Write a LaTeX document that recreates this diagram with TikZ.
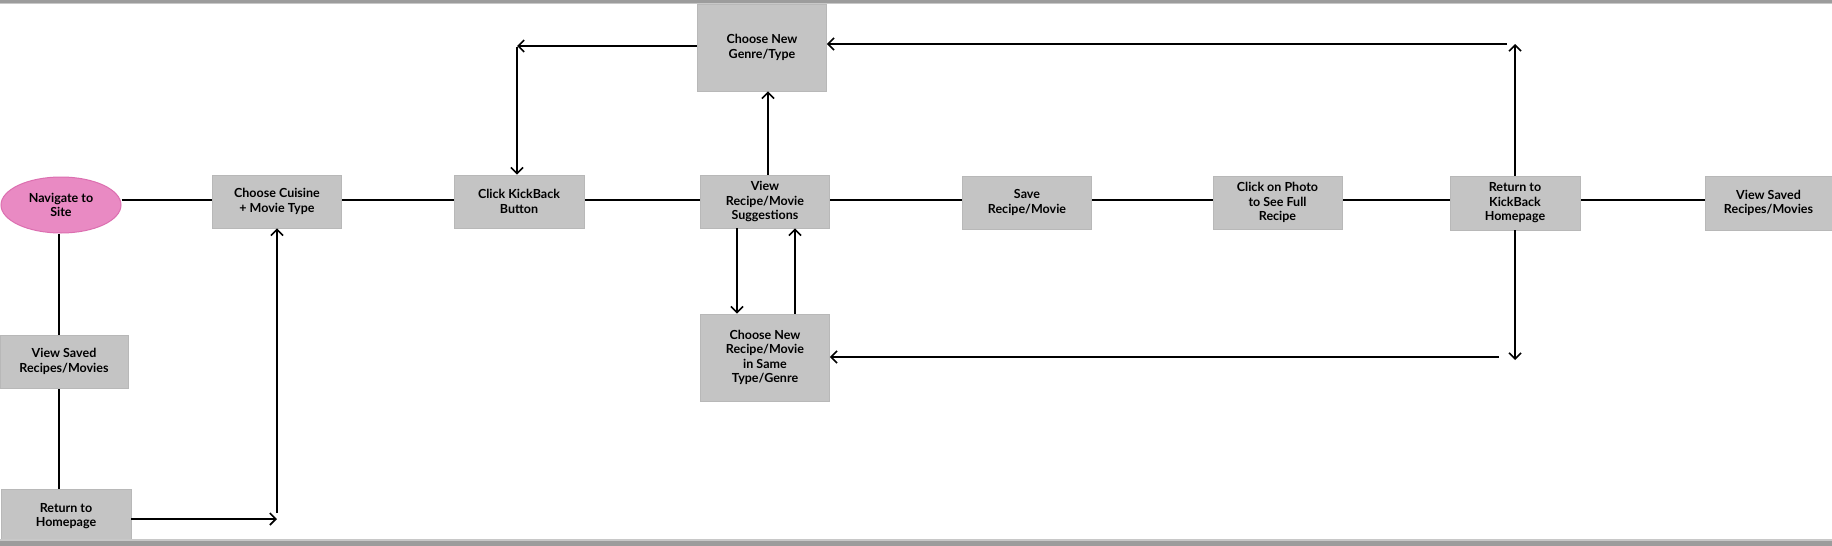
\documentclass[tikz,border=0pt]{standalone}
\usepackage{fontspec}
\setmainfont{Lato}
\usetikzlibrary{arrows.meta,shapes.geometric,backgrounds}
\definecolor{boxfill}{HTML}{C4C4C4}
\definecolor{boxedge}{HTML}{B8B8B8}
\definecolor{pinkfill}{HTML}{E98AC3}
\definecolor{pinkedge}{HTML}{DC6FB0}
\definecolor{band}{HTML}{9C9C9C}
\definecolor{bandlight}{HTML}{C8C8C8}
\tikzset{
  boxnode/.style={rectangle, fill=boxfill, draw=boxedge, line width=0.8pt,
    minimum width=129pt, minimum height=53pt, inner sep=2pt, align=center,
    font=\fontsize{12.5}{14.5}\selectfont\bfseries, text=black},
  tallbox/.style={boxnode, minimum height=87pt},
  startnode/.style={ellipse, fill=pinkfill, draw=pinkedge, line width=1pt,
    minimum width=120pt, minimum height=56pt, inner sep=0pt, align=center,
    font=\fontsize{12.5}{14.5}\selectfont\bfseries, text=black},
  mainline/.style={draw=black, line width=2.2pt},
  arr/.style={draw=black, line width=1.6pt, -{Straight Barb[length=6pt,width=12pt,line width=1.6pt]}},
}
\begin{document}
\begin{tikzpicture}[x=1pt,y=-1pt]
\useasboundingbox (0,0) rectangle (1832,546);

% nodes
\node[startnode] (nav) at (61,205) {Navigate to\\Site};
\node[boxnode] (cuisine) at (277,201.5) {Choose Cuisine\\+ Movie Type};
\node[boxnode, minimum width=130pt] (kick) at (519,201.5) {Click KickBack\\Button};
\node[tallbox] (genre) at (762,47.5) {Choose New\\Genre/Type};
\node[boxnode] (view) at (765,201.5) {View\\Recipe/Movie\\Suggestions};
\node[boxnode] (save) at (1027,202.5) {Save\\Recipe/Movie};
\node[boxnode] (photo) at (1277.5,202.5) {Click on Photo\\to See Full\\Recipe};
\node[boxnode, minimum width=130pt, minimum height=54pt] (ret) at (1515,203) {Return to\\KickBack\\Homepage};
\node[boxnode, minimum width=127pt, minimum height=54pt] (saved2) at (1768.5,203) {View Saved\\Recipes/Movies};
\node[tallbox] (newrec) at (765,357.5) {Choose New\\Recipe/Movie\\in Same\\Type/Genre};
\node[boxnode, minimum width=128pt] (saved1) at (64,361.5) {View Saved\\Recipes/Movies};
\node[boxnode, minimum width=130pt, minimum height=54pt] (home) at (66,516) {Return to\\Homepage};

% free ends and guide
\coordinate (row) at (0,200);
\coordinate (c1) at (277,519);
\coordinate (c2) at (517,46);
\coordinate (c3) at (1515,44);
\coordinate (c4) at (1515,360);

\begin{scope}[on background layer]
  \fill[white] (0,0) rectangle (1832,546);
  \draw[mainline] (nav.east |- row) -- (cuisine.west |- row);
  \draw[mainline] (cuisine.east |- row) -- (kick.west |- row);
  \draw[mainline] (kick.east |- row) -- (view.west |- row);
  \draw[mainline] (view.east |- row) -- (save.west |- row);
  \draw[mainline] (save.east |- row) -- (photo.west |- row);
  \draw[mainline] (photo.east |- row) -- (ret.west |- row);
  \draw[mainline] (ret.east |- row) -- (saved2.west |- row);
  \draw[mainline] ([xshift=-2pt]nav.south) -- ([xshift=-2pt]nav.south |- saved1.north);
  \draw[mainline] ([xshift=-2pt]nav.south |- saved1.south) -- ([xshift=-2pt]nav.south |- home.north);
\end{scope}

% bands
\fill[band] (0,0) rectangle (1832,2.5);
\fill[bandlight] (0,2.5) rectangle (1832,4);
\fill[bandlight] (0,539) rectangle (1832,541);
\fill[band] (0,541) rectangle (1832,546);

% arrows
\draw[arr] (home.east |- c1) -- (c1);
\draw[arr] ([yshift=6pt]c1) -- (c1 |- cuisine.south);
\draw[arr] (genre.west |- c2) -- (c2);
\draw[arr] ([yshift=-1pt]c2) -- (c2 |- kick.north);
\draw[arr] ([xshift=3pt]view.north) -- ([xshift=3pt]view.north |- genre.south);
\draw[arr] ([xshift=-28pt]view.south) -- ([xshift=-28pt]view.south |- newrec.north);
\draw[arr] ([xshift=30pt]newrec.north) -- ([xshift=30pt]newrec.north |- view.south);
\draw[arr] (ret.north) -- (c3);
\draw[arr] ([xshift=-8pt]c3) -- (c3 -| genre.east);
\draw[arr] (ret.south) -- (c4);
\draw[arr] ([xshift=-16pt, yshift=3pt]c4) -- ([yshift=3pt]c4 -| newrec.east);
\end{tikzpicture}
\end{document}
